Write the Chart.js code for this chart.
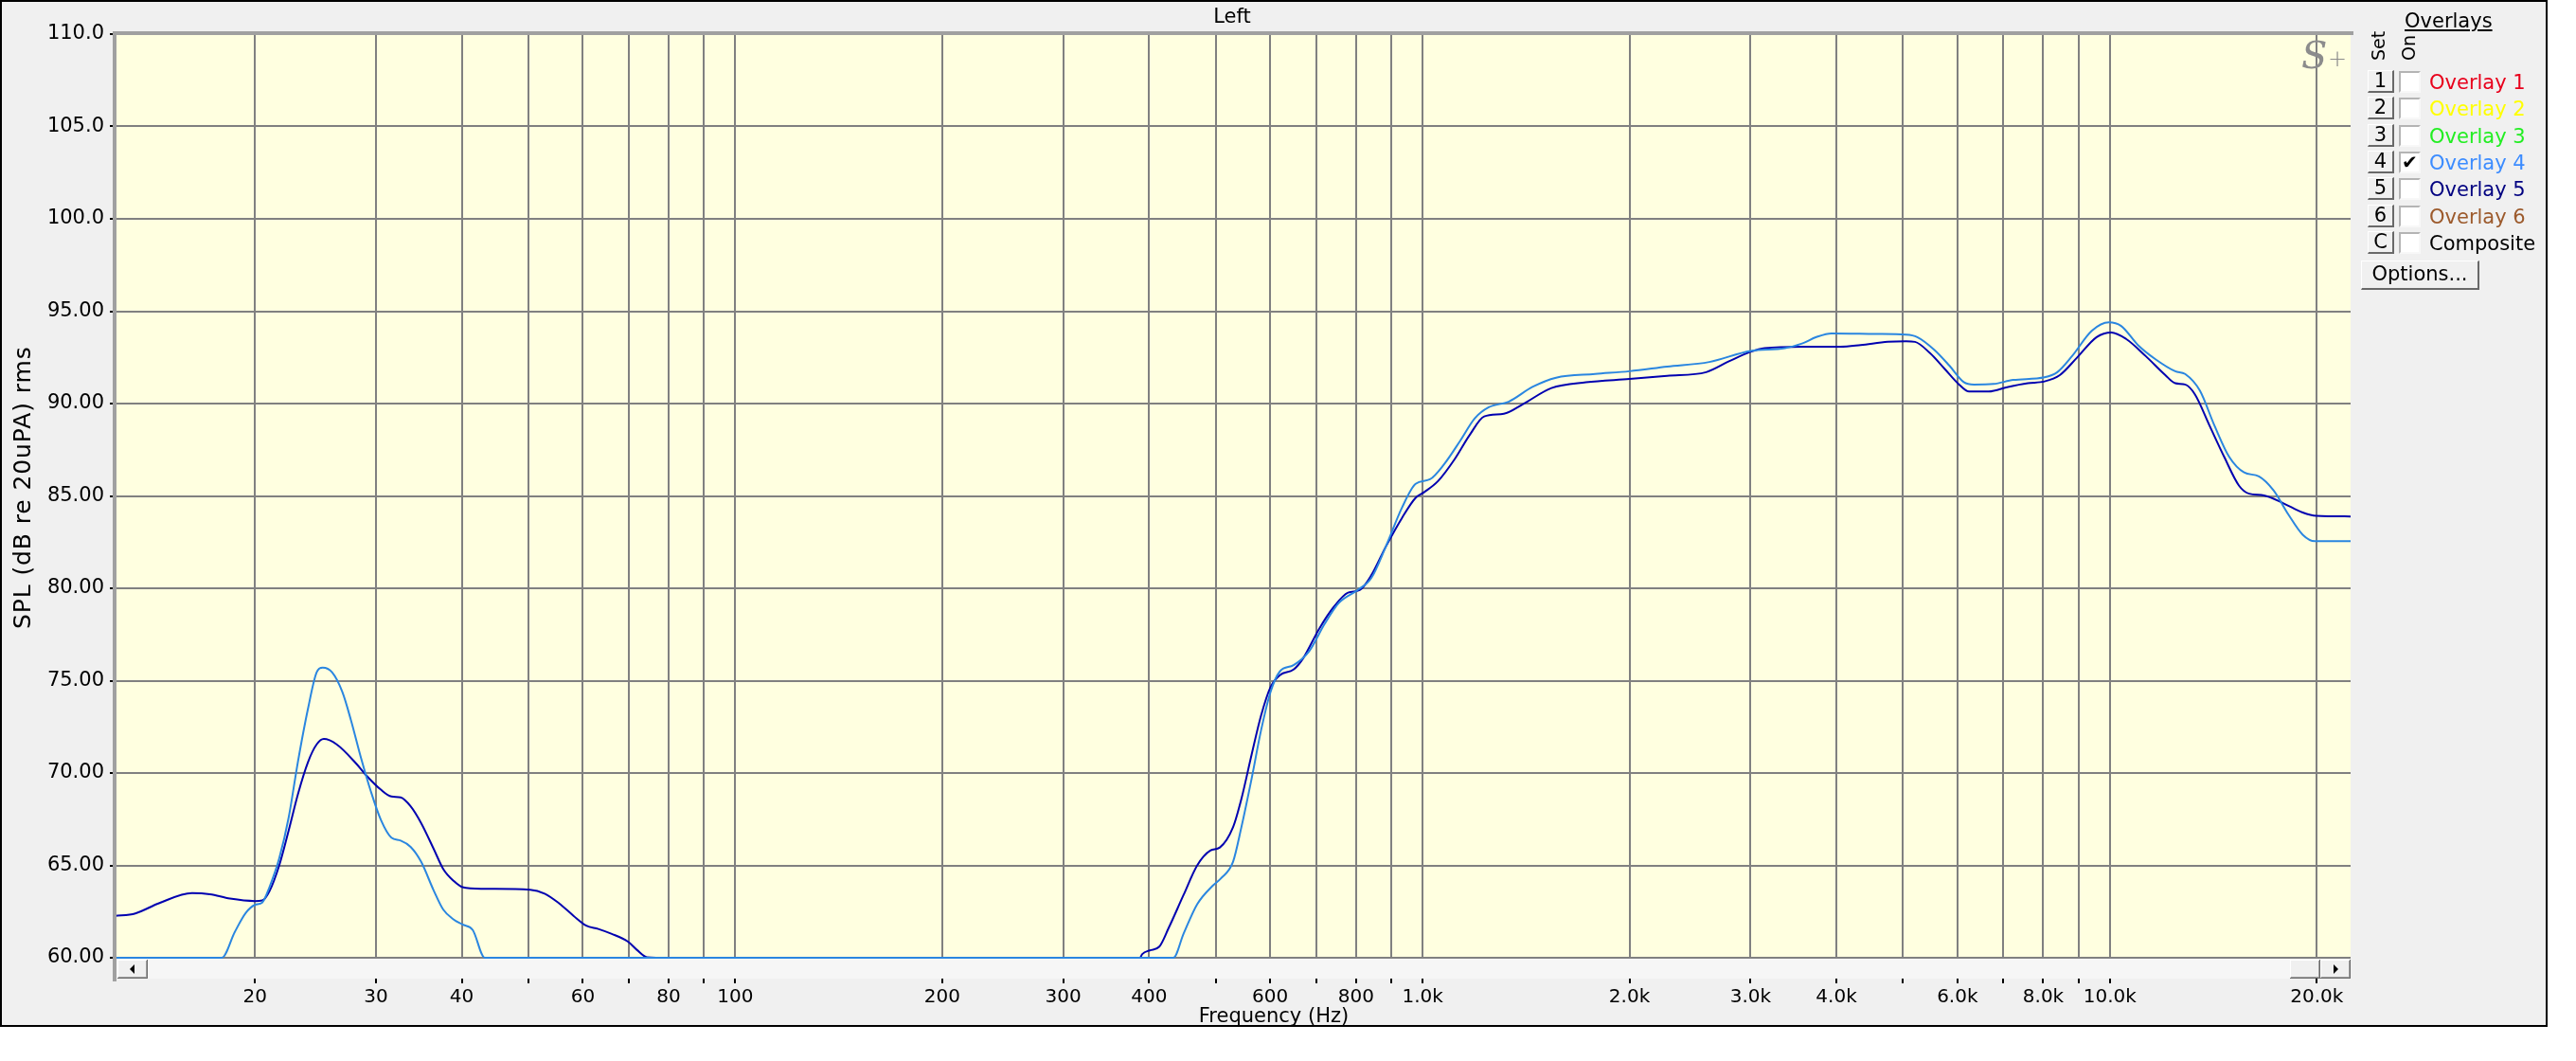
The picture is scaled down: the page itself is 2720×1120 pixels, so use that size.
<!DOCTYPE html>
<html>
<head>
<meta charset="utf-8">
<script src="https://cdn.jsdelivr.net/npm/chart.js@4.4.1/dist/chart.umd.min.js"></script>
<style>
  html, body { margin: 0; padding: 0; background: #fff; }
  body { width: 2720px; height: 1120px; position: relative; overflow: hidden; font-family: 'DejaVu Sans', sans-serif; }
  #frame { position: absolute; left: 0; top: 0; width: 2690px; height: 1084px; box-sizing: border-box; border: 2px solid #000; background: #f0f0f0; }
  #chart { position: absolute; left: 0; top: 0; }
  .txt { position: absolute; font-size: 21px; line-height: 22px; white-space: nowrap; color: #000; }
  .btn { position: absolute; box-sizing: border-box; background: #f0f0f0; border-style: solid; border-width: 1px 2px 2px 1px; border-color: #fff #696969 #696969 #fff; text-align: center; color: #000; font-size: 21px; }
  .chk { position: absolute; box-sizing: border-box; width: 23px; height: 23px; background: #fff; border: 2px solid; border-color: #b4b4b4 #f8f8f8 #f8f8f8 #b4b4b4; font-size: 20px; font-weight: bold; line-height: 19px; text-align: center; color: #000; }
  .rot { position: absolute; transform: rotate(-90deg); transform-origin: left top; white-space: nowrap; }
</style>
</head>
<body>
<div id="frame"></div>
<canvas id="chart" width="2720" height="1120"></canvas>

<div class="txt" style="left:1151px; width:300px; text-align:center; top:6px;">Left</div>
<div class="txt" style="left:1195px; width:300px; text-align:center; top:1061px;">Frequency (Hz)</div>
<div class="rot" style="left:11px; top:664px; font-size:25px; line-height:26px; letter-spacing:0.9px;">SPL (dB re 20uPA) rms</div>

<div class="txt" style="left:2430px; top:38px; font-family:'DejaVu Serif', serif; font-style:italic; font-size:40px; line-height:40px; color:#8c8c8c;">S</div>
<div class="txt" style="left:2458px; top:50px; font-size:24px; line-height:24px; color:#8c8c8c; font-weight:200;">+</div>

<div class="txt" style="left:2539px; top:11px; text-decoration:underline;">Overlays</div>
<div class="rot" style="left:2501px; top:64px; font-size:19px; line-height:20px;">Set</div>
<div class="rot" style="left:2533px; top:64px; font-size:19px; line-height:20px;">On</div>
<div id="rows"></div>
<div class="btn" style="left:2493px; top:275px; width:125px; height:31px; line-height:27px;">Options...</div>

<script>
// frequency response, dark trace (Hz, dB SPL)
const darkHz = [12.5, 13.4, 14.5, 16.2, 17.2, 18.4, 20.0, 20.5, 21.0, 21.7, 22.4, 23.1, 23.9, 24.6, 25.2, 26.3, 28.1, 29.0, 30.5, 31.6, 32.6, 33.7, 34.9, 36.4, 37.6, 38.9, 40.1, 42.9, 50.3, 52.8, 55.4, 58.2, 60.7, 63.2, 66.0, 69.8, 71.9, 74.4, 80, 200,
  388, 391, 401, 414, 427, 449, 470, 491, 507, 530, 545, 564, 582, 601, 620, 649, 670, 707, 743, 779, 810, 842, 884, 933, 977, 1005, 1053, 1114, 1171, 1229, 1313, 1400, 1540, 1729, 2000, 2269, 2586, 2796, 3000, 3147,
  3565, 4053, 4340, 4752, 5053, 5205, 5470, 5743, 6035, 6239, 6663, 7110, 7600, 8034, 8455, 8955, 9566, 10050, 10557, 11275, 12042, 12447, 12867, 13295, 13966, 14672, 15415, 15940, 16752, 17888, 19079, 19975, 22400];
const darkDb = [62.26, 62.4, 62.95, 63.5, 63.44, 63.2, 63.07, 63.1, 63.6, 65.0, 66.9, 68.85, 70.6, 71.55, 71.84, 71.55, 70.5, 69.9, 69.1, 68.73, 68.68, 68.2, 67.3, 65.9, 64.8, 64.17, 63.82, 63.73, 63.68, 63.47, 62.95, 62.26, 61.74, 61.56, 61.3, 60.87, 60.43, 60.03, 60, 60,
  60, 60.2, 60.4, 60.6, 61.6, 63.4, 65.0, 65.8, 65.97, 67.07, 68.6, 71.0, 73.1, 74.66, 75.3, 75.6, 76.2, 77.8, 79.0, 79.76, 79.9, 80.7, 82.25, 83.8, 84.9, 85.2, 85.8, 87.0, 88.3, 89.3, 89.45, 89.97, 90.84, 91.15, 91.33, 91.5, 91.7, 92.3, 92.8, 93.0,
  93.08, 93.08, 93.17, 93.34, 93.37, 93.34, 92.74, 91.9, 91.03, 90.65, 90.65, 90.9, 91.1, 91.2, 91.54, 92.48, 93.6, 93.85, 93.5, 92.57, 91.54, 91.1, 91.03, 90.5, 88.8, 87.1, 85.55, 85.12, 85.03, 84.6, 84.1, 83.92, 83.89];

// overlay 4 trace
const lightHz = [12.5, 17.9, 18.7, 19.4, 20.0, 20.5, 21.0, 21.7, 22.4, 23.1, 23.9, 24.6, 25.1, 25.9, 26.8, 27.6, 28.5, 29.5, 30.5, 31.6, 32.6, 33.7, 34.9, 36.4, 37.6, 38.9, 40.1, 41.5, 43.2, 200,
  434, 449, 470, 495, 509, 530, 545, 564, 582, 601, 620, 649, 684, 720, 755, 804, 842, 884, 933, 977, 1025, 1074, 1135, 1191, 1248, 1334, 1445, 1564, 1782, 2000, 2269, 2613, 3000, 3368,
  3565, 3741, 3935, 4563, 5053, 5244, 5557, 5842, 6130, 6343, 6773, 7233, 8034, 8385, 8810, 9410, 9967, 10386, 10985, 11652, 12447, 12867, 13518, 14199, 14922, 15676, 16474, 17304, 18181, 19079, 19878, 22400];
const lightDb = [60, 60, 61.4, 62.43, 62.86, 62.99, 63.82, 65.38, 67.6, 70.6, 73.5, 75.45, 75.7, 75.45, 74.4, 72.85, 70.9, 69.0, 67.47, 66.5, 66.34, 66.0, 65.2, 63.65, 62.6, 62.08, 61.8, 61.5, 60, 60,
  60, 61.3, 62.9, 63.9, 64.3, 65.2, 67.07, 69.7, 72.3, 74.4, 75.5, 75.84, 76.6, 78.06, 79.2, 79.9, 80.55, 82.25, 84.35, 85.65, 85.9, 86.7, 88.0, 89.2, 89.8, 90.1, 90.9, 91.4, 91.6, 91.75, 92.0, 92.25, 92.85, 93.0,
  93.25, 93.6, 93.8, 93.77, 93.73, 93.6, 92.9, 92.05, 91.16, 91.03, 91.06, 91.28, 91.42, 91.7, 92.57, 93.94, 94.4, 94.2, 93.17, 92.4, 91.75, 91.6, 90.7, 88.8, 87.1, 86.27, 86.06, 85.3, 84.0, 82.9, 82.55, 82.55];

const gridHz = [20, 30, 40, 50, 60, 70, 80, 90, 100, 200, 300, 400, 500, 600, 700, 800, 900, 1000, 2000, 3000, 4000, 5000, 6000, 7000, 8000, 9000, 10000, 20000];
const gridLabels = ['20', '30', '40', '', '60', '', '80', '', '100', '200', '300', '400', '', '600', '', '800', '', '1.0k', '2.0k', '3.0k', '4.0k', '', '6.0k', '', '8.0k', '', '10.0k', '20.0k'];
const yMin = 60, yMax = 110, yStep = 5;

const overlayNames = ['Overlay 1', 'Overlay 2', 'Overlay 3', 'Overlay 4', 'Overlay 5', 'Overlay 6', 'Composite'];
const overlayKeys = ['1', '2', '3', '4', '5', '6', 'C'];
const overlayColors = ['#e8001c', '#ffff00', '#22ee22', '#3c8cff', '#000080', '#9c5a2c', '#000000'];
const overlayOn = [false, false, false, true, false, false, false];

// legend rows
const rows = document.getElementById('rows');
overlayNames.forEach((name, i) => {
  const top = 74 + i * 28.3;
  rows.insertAdjacentHTML('beforeend',
    `<div class="btn" style="left:2500px; top:${top}px; width:28px; height:24px; line-height:21px;">${overlayKeys[i]}</div>` +
    `<div class="chk" style="left:2533px; top:${top + 1}px;">${overlayOn[i] ? '✔' : ''}</div>` +
    `<div class="txt" style="left:2565px; top:${top + 2}px; color:${overlayColors[i]};">${name}</div>`);
});

const toPts = (xs, ys) => xs.map((x, i) => ({ x: x, y: ys[i] }));

// plot background, bevel edges, scrollbar, small ticks
const framePlugin = {
  id: 'frame',
  beforeDraw(chart) {
    const { ctx, chartArea: a } = chart;
    ctx.save();
    ctx.fillStyle = '#ffffe0';
    ctx.fillRect(a.left, a.top, a.right - a.left, a.bottom - a.top);
    ctx.restore();
  },
  afterDraw(chart) {
    const { ctx, chartArea: a } = chart;
    const xs = chart.scales.x;
    ctx.save();
    // scrollbar strip
    ctx.fillStyle = '#f6f6f6';
    ctx.fillRect(a.left, a.bottom + 1, a.right - a.left, 21);
    const button = (x, y, w, h, dir) => {
      ctx.fillStyle = '#f0f0f0';
      ctx.fillRect(x, y, w, h);
      ctx.fillStyle = '#ffffff';
      ctx.fillRect(x, y, w, 1); ctx.fillRect(x, y, 1, h);
      ctx.fillStyle = '#a0a0a0';
      ctx.fillRect(x + 1, y + h - 2, w - 1, 1); ctx.fillRect(x + w - 2, y + 1, 1, h - 2);
      ctx.fillStyle = '#696969';
      ctx.fillRect(x, y + h - 1, w, 1); ctx.fillRect(x + w - 1, y, 1, h);
      if (dir) {
        const cx = x + w / 2, cy = y + h / 2;
        ctx.fillStyle = '#000';
        ctx.beginPath();
        ctx.moveTo(cx + dir * 3, cy);
        ctx.lineTo(cx - dir * 2, cy - 5);
        ctx.lineTo(cx - dir * 2, cy + 5);
        ctx.closePath();
        ctx.fill();
      }
    };
    button(a.left + 3, a.bottom + 2, 32, 20, -1);
    button(a.right - 64, a.bottom + 2, 32, 20, 0);
    button(a.right - 32, a.bottom + 2, 32, 20, 1);
    // small ticks below the scrollbar
    ctx.fillStyle = '#000';
    gridHz.forEach(v => {
      const px = Math.round(xs.getPixelForValue(v));
      ctx.fillRect(px - 1, a.bottom + 22, 2, 5);
    });
    // grey bevel on top and left
    ctx.fillStyle = '#a0a0a0';
    ctx.fillRect(a.left - 2, a.top - 3, a.right - a.left + 5, 4);
    ctx.fillRect(a.left - 2, a.top - 3, 4, a.bottom - a.top + 28);
    ctx.restore();
  }
};

const tickFont = { family: "'DejaVu Sans', sans-serif", size: 20 };

new Chart(document.getElementById('chart'), {
  type: 'line',
  data: {
    datasets: [
      { label: 'Overlay 4', data: toPts(lightHz, lightDb), borderColor: '#2a86e0', borderWidth: 2, pointRadius: 0, cubicInterpolationMode: 'monotone', clip: { left: 0, top: 0, right: 0, bottom: 3 } },
      { label: 'Left', data: toPts(darkHz, darkDb), borderColor: '#0000b0', borderWidth: 2, pointRadius: 0, cubicInterpolationMode: 'monotone', clip: { left: 0, top: 0, right: 0, bottom: 3 } }
    ]
  },
  options: {
    responsive: false,
    animation: false,
    devicePixelRatio: 1,
    layout: { padding: { left: 0, right: 238, top: 36, bottom: 36 } },
    plugins: { legend: { display: false }, tooltip: { enabled: false }, title: { display: false } },
    scales: {
      x: {
        type: 'logarithmic',
        min: 12.5,
        max: 22400,
        afterFit: s => { s.height = 73; },
        afterBuildTicks: s => { s.ticks = gridHz.map(v => ({ value: v })); },
        ticks: { autoSkip: false, maxRotation: 0, padding: 30, color: '#000', font: tickFont, callback: (v, i) => gridLabels[i] },
        grid: { color: '#808080', lineWidth: 2, drawTicks: false },
        border: { display: false }
      },
      y: {
        min: yMin,
        max: yMax,
        afterFit: s => { s.width = 121; },
        ticks: { stepSize: yStep, padding: 6, color: '#000', font: { family: "'DejaVu Sans', sans-serif", size: 21 }, callback: v => v >= 100 ? v.toFixed(1) : v.toFixed(2) },
        grid: { color: '#808080', lineWidth: 2, tickColor: '#000', tickLength: 5, tickWidth: 2 },
        border: { display: false }
      }
    }
  },
  plugins: [framePlugin]
});
</script>
</body>
</html>
